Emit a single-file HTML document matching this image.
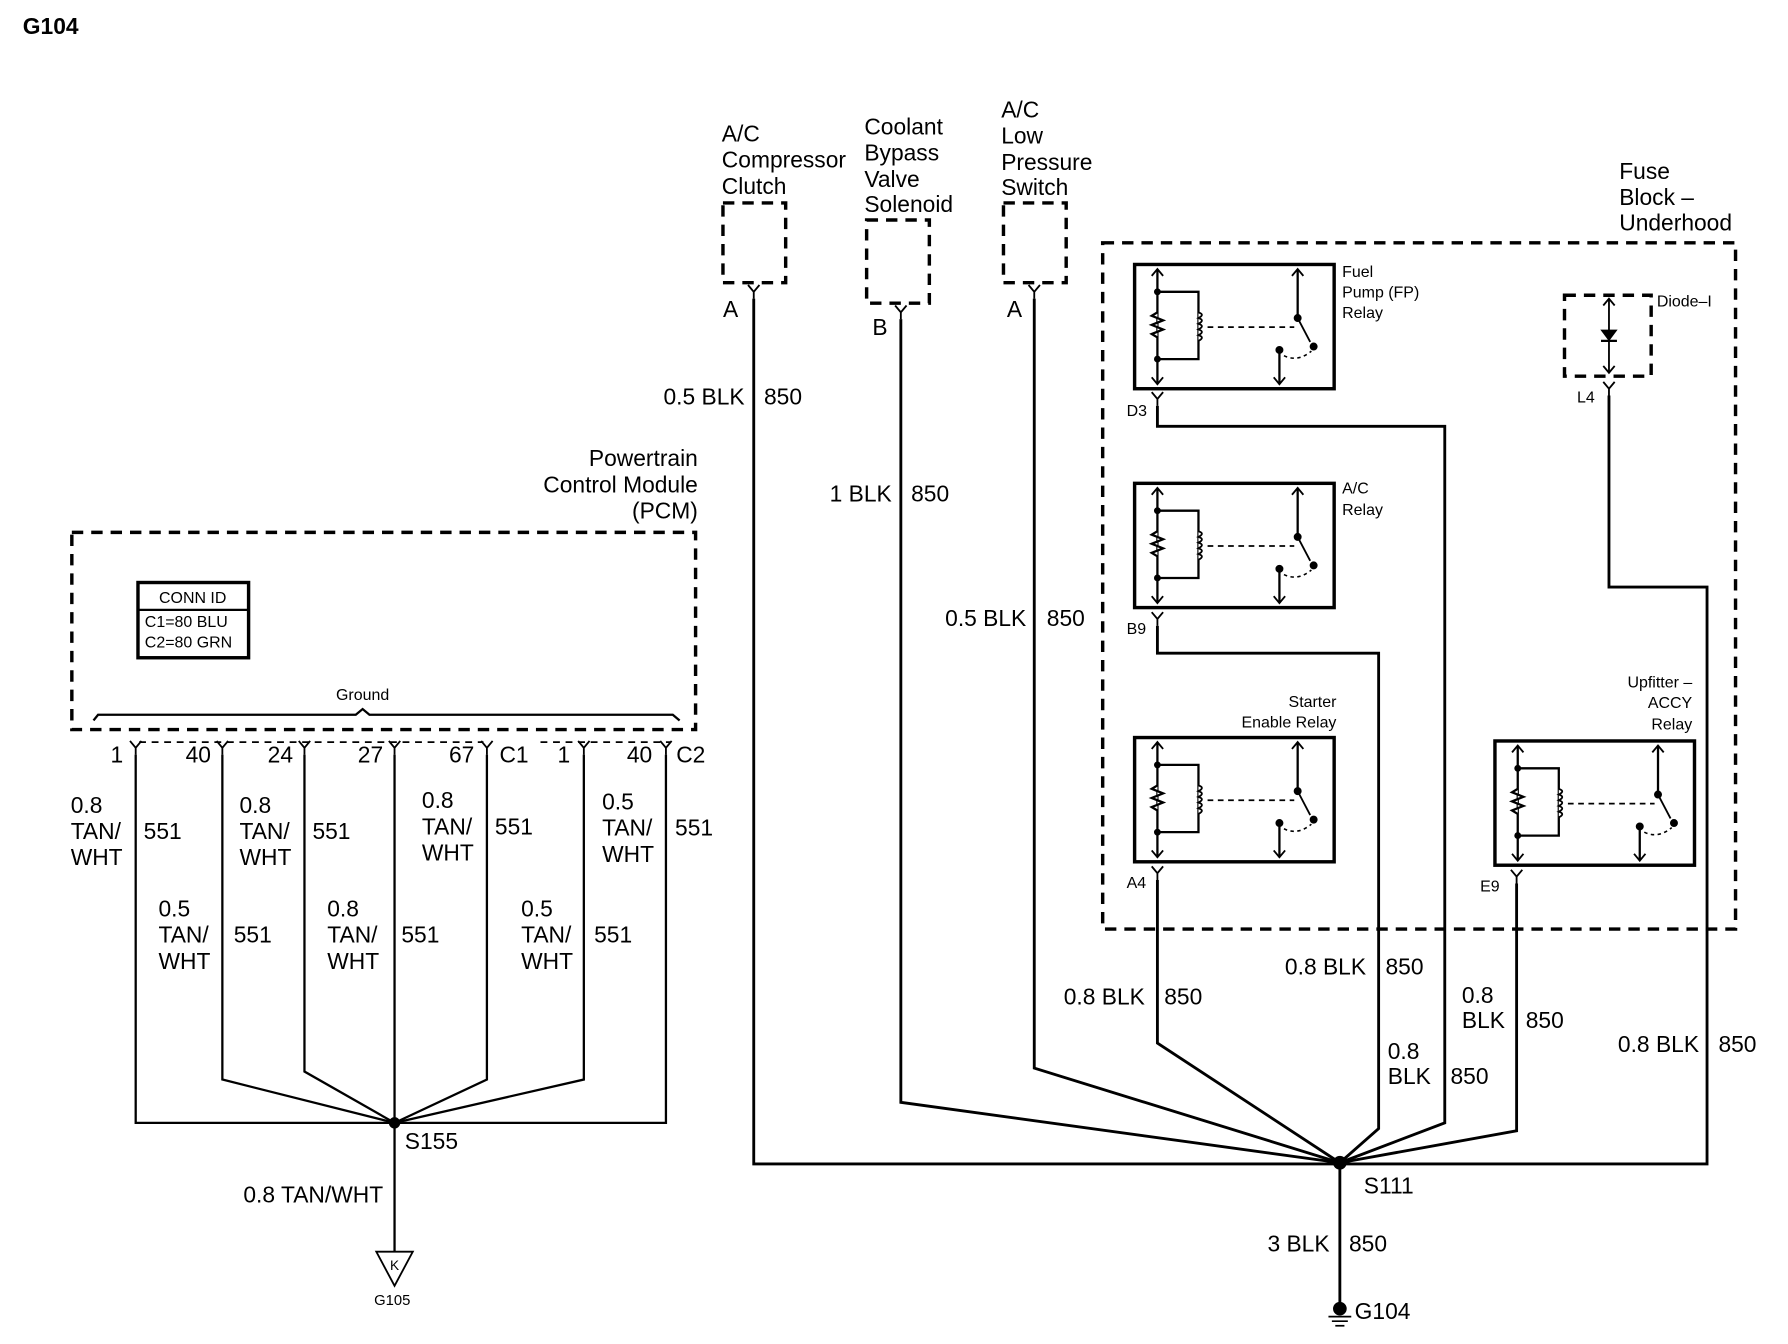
<!DOCTYPE html>
<html><head><meta charset="utf-8"><style>
html,body{margin:0;padding:0;background:#fff;}
svg{display:block;}
text{font-family:"Liberation Sans",Arial,sans-serif;fill:#000;}
</style></head><body>
<svg width="1788" height="1344" viewBox="0 0 1568 1179" preserveAspectRatio="none" xmlns="http://www.w3.org/2000/svg">
<defs>
<g id="relay" stroke="#000" fill="none">
<rect x="0" y="0" width="175" height="109" stroke-width="3"/>
<line x1="20" y1="4" x2="20" y2="105" stroke-width="2"/>
<path d="M15,10 L20,4 L25,10 M15,99 L20,105 L25,99" stroke-width="1.6"/>
<path d="M20,24 H56 V83 H20" stroke-width="2"/>
<circle cx="20" cy="24" r="2.5" fill="#000"/><circle cx="20" cy="83" r="2.5" fill="#000"/>
<path d="M20,42 L15,45 L25,49 L15,53 L25,57 L15,61 L20,64" fill="#fff" stroke-width="2"/>
<path d="M56,42 q6,2 0,5 q6,2 0,5 q6,2 0,5 q6,2 0,5 q6,2 0,5" fill="#fff" stroke-width="1.6"/>
<line x1="64" y1="55" x2="140" y2="55" stroke-width="1.5" stroke-dasharray="5,4"/>
<line x1="143" y1="4" x2="143" y2="47" stroke-width="2"/>
<path d="M138,10 L143,4 L148,10" stroke-width="1.6"/>
<circle cx="143" cy="47" r="3" fill="#000"/>
<line x1="143" y1="47" x2="154" y2="68" stroke-width="1.6"/>
<circle cx="157" cy="72" r="3" fill="#000"/>
<line x1="127" y1="75" x2="127" y2="105" stroke-width="2"/>
<path d="M122,99 L127,105 L132,99" stroke-width="1.6"/>
<circle cx="127" cy="75" r="3" fill="#000"/>
<path d="M131,80 q12,6 24,-4" stroke-width="1.4" stroke-dasharray="3,3"/>
</g>
<path id="yc" d="M-5,0 L0,6 L5,0 M0,6 V12" stroke="#000" fill="none" stroke-width="1.6"/>
</defs>

<text x="20" y="30" font-size="20" font-weight="bold">G104</text>

<!-- top components -->
<g font-size="20">
<text x="633" y="124">A/C</text><text x="633" y="147">Compressor</text><text x="633" y="170">Clutch</text>
<text x="758" y="118">Coolant</text><text x="758" y="141">Bypass</text><text x="758" y="164">Valve</text><text x="758" y="186">Solenoid</text>
<text x="878" y="103">A/C</text><text x="878" y="126">Low</text><text x="878" y="149">Pressure</text><text x="878" y="171">Switch</text>
<text x="1420" y="157">Fuse</text><text x="1420" y="180">Block –</text><text x="1420" y="202">Underhood</text>
<text x="634" y="278">A</text><text x="765" y="294">B</text><text x="883" y="278">A</text>
</g>
<g stroke="#000" fill="none" stroke-width="3" stroke-dasharray="10,7">
<rect x="634" y="178" width="55" height="70"/>
<rect x="760" y="193" width="55" height="73"/>
<rect x="880" y="178" width="55" height="70"/>
<rect x="967" y="213" width="555" height="602"/>
<rect x="1372" y="259" width="76" height="71"/>
<rect x="63" y="467" width="547" height="173"/>
</g>
<use href="#yc" x="661" y="250"/><use href="#yc" x="790" y="268"/><use href="#yc" x="907" y="250"/>

<!-- relays -->
<use href="#relay" x="995" y="232"/>
<use href="#relay" x="995" y="424"/>
<use href="#relay" x="995" y="647"/>
<use href="#relay" x="1311" y="650"/>
<g font-size="14">
<text x="1177" y="243">Fuel</text><text x="1177" y="261">Pump (FP)</text><text x="1177" y="279">Relay</text>
<text x="1177" y="433">A/C</text><text x="1177" y="452">Relay</text>
<text x="1172" y="620" text-anchor="end">Starter</text><text x="1172" y="638" text-anchor="end">Enable Relay</text>
<text x="1484" y="603" text-anchor="end">Upfitter –</text><text x="1484" y="621" text-anchor="end">ACCY</text><text x="1484" y="640" text-anchor="end">Relay</text>
<text x="1453" y="269">Diode–I</text>
<text x="988" y="365">D3</text><text x="988" y="556">B9</text><text x="988" y="779">A4</text><text x="1298" y="782">E9</text><text x="1383" y="353">L4</text>
</g>
<use href="#yc" x="1015" y="344"/><use href="#yc" x="1015" y="537"/><use href="#yc" x="1015" y="760"/><use href="#yc" x="1330" y="763"/><use href="#yc" x="1411" y="335"/>
<!-- diode -->
<g stroke="#000" fill="none" stroke-width="1.6">
<line x1="1411" y1="262" x2="1411" y2="327"/>
<path d="M1406,268 L1411,262 L1416,268 M1406,321 L1411,327 L1416,321"/>
<path d="M1405,290 L1417,290 L1411,298 Z" fill="#000"/>
<line x1="1404" y1="299" x2="1418" y2="299" stroke-width="2"/>
</g>

<!-- right wiring -->
<g stroke="#000" fill="none" stroke-width="2.5">
<polyline points="661,262 661,1021 1497,1021 1497,515 1411,515 1411,347"/>
<polyline points="790,280 790,967 1175,1020"/>
<polyline points="907,262 907,937 1175,1020"/>
<polyline points="1015,356 1015,374 1267,374 1267,985 1175,1020"/>
<polyline points="1015,549 1015,573 1209,573 1209,990 1175,1020"/>
<polyline points="1015,772 1015,915 1175,1020"/>
<polyline points="1330,775 1330,992 1175,1020"/>
<line x1="1175" y1="1020" x2="1175" y2="1148"/>
</g>
<circle cx="1175" cy="1020" r="6" fill="#000"/>
<circle cx="1175" cy="1148" r="6" fill="#000"/>
<g stroke="#000" stroke-width="1.5"><line x1="1165" y1="1155" x2="1185" y2="1155"/><line x1="1168" y1="1159" x2="1182" y2="1159"/><line x1="1171" y1="1163" x2="1179" y2="1163"/></g>
<g font-size="20">
<text x="653" y="355" text-anchor="end">0.5 BLK</text><text x="670" y="355">850</text>
<text x="782" y="440" text-anchor="end">1 BLK</text><text x="799" y="440">850</text>
<text x="900" y="549" text-anchor="end">0.5 BLK</text><text x="918" y="549">850</text>
<text x="1198" y="855" text-anchor="end">0.8 BLK</text><text x="1215" y="855">850</text>
<text x="1004" y="881" text-anchor="end">0.8 BLK</text><text x="1021" y="881">850</text>
<text x="1217" y="929">0.8</text><text x="1217" y="951">BLK</text><text x="1272" y="951">850</text>
<text x="1282" y="880">0.8</text><text x="1282" y="902">BLK</text><text x="1338" y="902">850</text>
<text x="1490" y="923" text-anchor="end">0.8 BLK</text><text x="1507" y="923">850</text>
<text x="1196" y="1047">S111</text>
<text x="1166" y="1098" text-anchor="end">3 BLK</text><text x="1183" y="1098">850</text>
<text x="1188" y="1157">G104</text>
</g>

<!-- PCM -->
<g font-size="20">
<text x="612" y="409" text-anchor="end">Powertrain</text><text x="612" y="432" text-anchor="end">Control Module</text><text x="612" y="455" text-anchor="end">(PCM)</text>
</g>
<rect x="121" y="511" width="97" height="66" stroke="#000" fill="none" stroke-width="3"/>
<line x1="121" y1="535" x2="218" y2="535" stroke="#000" stroke-width="2"/>
<g font-size="14">
<text x="169" y="529" text-anchor="middle">CONN ID</text>
<text x="127" y="550">C1=80 BLU</text><text x="127" y="568">C2=80 GRN</text>
<text x="318" y="614" text-anchor="middle">Ground</text>
</g>
<path d="M82,632 L86,627 H312 L318,622 L324,627 H590 L596,632" stroke="#000" fill="none" stroke-width="2"/>
<line x1="122" y1="651" x2="600" y2="651" stroke="#000" stroke-width="1.6" stroke-dasharray="6,5"/>
<g fill="#fff"><rect x="424" y="645" width="50" height="12"/><rect x="588" y="645" width="14" height="12"/></g>
<use href="#yc" x="119" y="650"/><use href="#yc" x="195" y="650"/><use href="#yc" x="267" y="650"/><use href="#yc" x="346" y="650"/><use href="#yc" x="427" y="650"/><use href="#yc" x="512" y="650"/><use href="#yc" x="584" y="650"/>
<g font-size="20">
<text x="108" y="669" text-anchor="end">1</text><text x="185" y="669" text-anchor="end">40</text><text x="257" y="669" text-anchor="end">24</text><text x="336" y="669" text-anchor="end">27</text><text x="416" y="669" text-anchor="end">67</text><text x="438" y="669">C1</text><text x="500" y="669" text-anchor="end">1</text><text x="572" y="669" text-anchor="end">40</text><text x="593" y="669">C2</text>
</g>
<g stroke="#000" fill="none" stroke-width="2">
<polyline points="119,662 119,985 584,985 584,662"/>
<polyline points="195,662 195,947 346,985"/>
<polyline points="267,662 267,940 346,985"/>
<polyline points="427,662 427,947 346,985"/>
<polyline points="512,662 512,947 346,985"/>
<line x1="346" y1="662" x2="346" y2="1098"/>
<path d="M330,1098 H362 L346,1128 Z" fill="#fff" stroke-width="1.6"/>
</g>
<circle cx="346" cy="985" r="5" fill="#000"/>
<text x="346" y="1114" font-size="12" text-anchor="middle">K</text>
<text x="344" y="1145" font-size="13" text-anchor="middle">G105</text>
<g font-size="20">
<text x="355" y="1008">S155</text>
<text x="336" y="1055" text-anchor="end">0.8 TAN/WHT</text>
<text x="62" y="713">0.8</text><text x="62" y="736">TAN/</text><text x="62" y="759">WHT</text><text x="126" y="736">551</text>
<text x="210" y="713">0.8</text><text x="210" y="736">TAN/</text><text x="210" y="759">WHT</text><text x="274" y="736">551</text>
<text x="370" y="709">0.8</text><text x="370" y="732">TAN/</text><text x="370" y="755">WHT</text><text x="434" y="732">551</text>
<text x="528" y="710">0.5</text><text x="528" y="733">TAN/</text><text x="528" y="756">WHT</text><text x="592" y="733">551</text>
<text x="139" y="804">0.5</text><text x="139" y="827">TAN/</text><text x="139" y="850">WHT</text><text x="205" y="827">551</text>
<text x="287" y="804">0.8</text><text x="287" y="827">TAN/</text><text x="287" y="850">WHT</text><text x="352" y="827">551</text>
<text x="457" y="804">0.5</text><text x="457" y="827">TAN/</text><text x="457" y="850">WHT</text><text x="521" y="827">551</text>
</g>
</svg>
</body></html>
